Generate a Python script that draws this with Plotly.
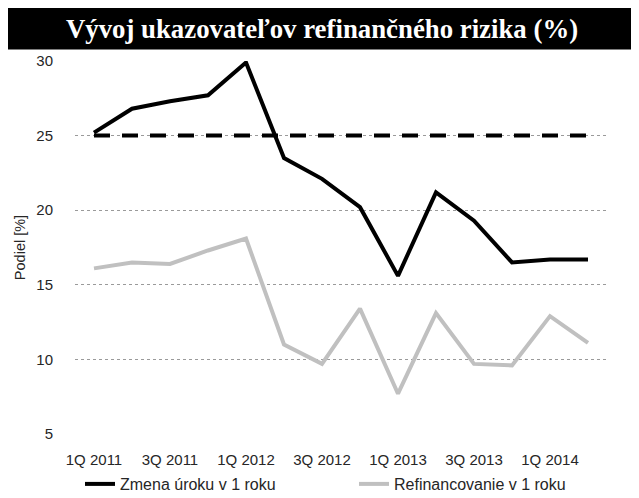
import plotly.graph_objects as go

quarters = ["1Q 2011", "2Q 2011", "3Q 2011", "4Q 2011",
            "1Q 2012", "2Q 2012", "3Q 2012", "4Q 2012",
            "1Q 2013", "2Q 2013", "3Q 2013", "4Q 2013",
            "1Q 2014", "2Q 2014"]
zmena_uroku = [25.2, 26.8, 27.3, 27.7, 29.9, 23.5, 22.1, 20.2,
               15.6, 21.2, 19.3, 16.5, 16.7, 16.7]
refinancovanie = [16.1, 16.5, 16.4, 17.3, 18.1, 11.0, 9.7, 13.4,
                  7.7, 13.1, 9.7, 9.6, 12.9, 11.1]
limit_value = [25] * len(quarters)
tick_labels = quarters[::2]

FONT = "Liberation Sans, Arial, sans-serif"
TXT = "#262626"

# page has an 8px body margin; figure sized to fit the 639x498 window
W, H = 631, 490
L, R, T, B = 67, 32, 53, 64
PW, PH = W - L - R, H - T - B

fig = go.Figure()
fig.add_trace(go.Scatter(x=quarters, y=limit_value, mode="lines",
                         line=dict(color="black", width=4, dash="16px,12px"),
                         showlegend=False, hoverinfo="skip"))
fig.add_trace(go.Scatter(x=quarters, y=zmena_uroku, mode="lines",
                         name="Zmena úroku v 1 roku", legend="legend",
                         line=dict(color="black", width=4)))
fig.add_trace(go.Scatter(x=quarters, y=refinancovanie, mode="lines",
                         name="Refinancovanie v 1 roku", legend="legend2",
                         line=dict(color="#c0c0c0", width=4)))

legend_common = dict(orientation="h", xanchor="left", yanchor="middle",
                     y=-(476 - (T + PH)) / PH,
                     font=dict(size=16, color=TXT), bgcolor="rgba(0,0,0,0)")

fig.update_layout(
    width=W, height=H,
    margin=dict(l=L, r=R, t=T, b=B, autoexpand=False),
    paper_bgcolor="white", plot_bgcolor="white",
    font=dict(family=FONT, size=14.5, color=TXT),
    xaxis=dict(type="category", range=[-0.5, 13.5],
               tickvals=tick_labels, ticktext=tick_labels,
               showgrid=False, showline=False, zeroline=False,
               ticks="outside", ticklen=12, tickcolor="rgba(0,0,0,0)",
               tickfont=dict(size=15, color=TXT)),
    yaxis=dict(range=[5, 30], tickvals=[5, 10, 15, 20, 25, 30],
               showgrid=True, gridcolor="#9a9a9a", griddash="dot", gridwidth=1,
               showline=False, zeroline=False,
               ticks="outside", ticklen=18, tickcolor="rgba(0,0,0,0)",
               tickfont=dict(size=15, color=TXT),
               title=dict(text="Podiel [%]", font=dict(size=14.5, color=TXT),
                          standoff=7)),
    legend=dict(x=(72 - L) / PW, **legend_common),
    legend2=dict(x=(346 - L) / PW, **legend_common),
    annotations=[dict(
        text="<b>Vývoj ukazovateľov refinančného rizika (%)</b>",
        xref="paper", yref="paper",
        x=(313.5 - L) / PW, y=1 + (T - 20.5) / PH,
        xanchor="center", yanchor="middle",
        width=628, height=41, bgcolor="black", borderpad=0,
        showarrow=False,
        font=dict(family="Liberation Serif, Times New Roman, serif", size=26.8, color="white"))],
)

fig.write_html("out.html")
